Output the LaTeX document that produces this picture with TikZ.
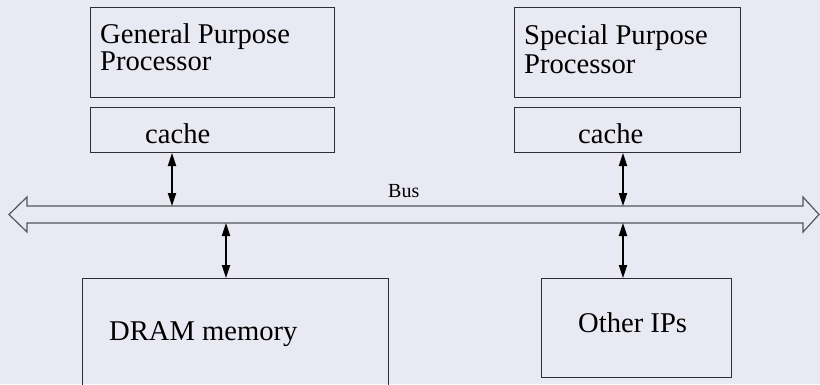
\documentclass[tikz,border=0pt]{standalone}
\usepackage{fontspec}
\setmainfont{Liberation Serif}
\usetikzlibrary{arrows.meta}
\definecolor{paper}{RGB}{233,233,243}
\definecolor{edge}{RGB}{45,45,50}
\definecolor{busline}{RGB}{85,85,90}
\tikzset{
  x=1pt, y=-1pt,
  unitbox/.style={draw=edge, line width=1pt, inner sep=0pt, anchor=north west},
  lbl/.style={inner sep=0pt, anchor=base west, font=\fontsize{28.6}{28}\selectfont},
  buslbl/.style={inner sep=0pt, anchor=base west, font=\fontsize{20}{20}\selectfont},
  link/.style={line width=1.8pt, black,
    {Triangle[length=13pt,width=8pt]}-{Triangle[length=13pt,width=8pt]}},
  busshape/.style={draw=busline, line width=1.2pt, line join=miter}
}
\begin{document}
\begin{tikzpicture}
  \fill[paper] (0,0) rectangle (820,384);
  \useasboundingbox (0,0) rectangle (820,384);

  % processors and their caches
  \node[unitbox, minimum width=244pt, minimum height=90pt] (gpp) at (90,7) {};
  \node[unitbox, minimum width=244pt, minimum height=45pt] (gpc) at (90,107) {};
  \node[unitbox, minimum width=226pt, minimum height=90pt] (spp) at (514,7) {};
  \node[unitbox, minimum width=226pt, minimum height=45pt] (spc) at (514,107) {};

  \node[lbl] (gppa) at (100,43) {General Purpose};
  \node[lbl] (gppb) at (100,70) {Processor};
  \node[lbl] (sppa) at (524,44) {Special Purpose};
  \node[lbl] (sppb) at (524,73) {Processor};
  \node[lbl] (gpct) at (145,143) {cache};
  \node[lbl] (spct) at (578,143) {cache};

  % memory and other IP blocks
  \begin{scope}
    \clip (0,0) rectangle (820,384);
    \node[unitbox, minimum width=306pt, minimum height=120pt] (dram) at (82,278) {};
  \end{scope}
  \node[unitbox, minimum width=190pt, minimum height=99pt] (oip) at (541,278) {};
  \node[lbl] (dramt) at (109,340) {DRAM memory};
  \node[lbl] (oipt) at (578,332) {Other IPs};

  % the bus: a hollow double-headed arrow
  \coordinate (busL) at (9,214.5);
  \coordinate (busR) at (819,214.5);
  \coordinate (busTop) at (0,206);
  \coordinate (busBot) at (0,223);
  \draw[busshape] (busL) -- (27,197) -- (27,206) -- (803,206) -- (803,197)
    -- (busR) -- (803,232) -- (803,223) -- (27,223) -- (27,232) -- cycle;
  \node[buslbl] (bust) at (388,197) {Bus};

  % links between the blocks and the bus
  \coordinate (colA) at (172,0);
  \coordinate (colB) at (623,0);
  \coordinate (colC) at (226,0);
  \draw[link] (gpc.south -| colA) -- (busTop -| colA);
  \draw[link] (spc.south -| colB) -- (busTop -| colB);
  \draw[link] (busBot -| colC) -- (dram.north -| colC);
  \draw[link] (busBot -| colB) -- (oip.north -| colB);
\end{tikzpicture}
\end{document}
